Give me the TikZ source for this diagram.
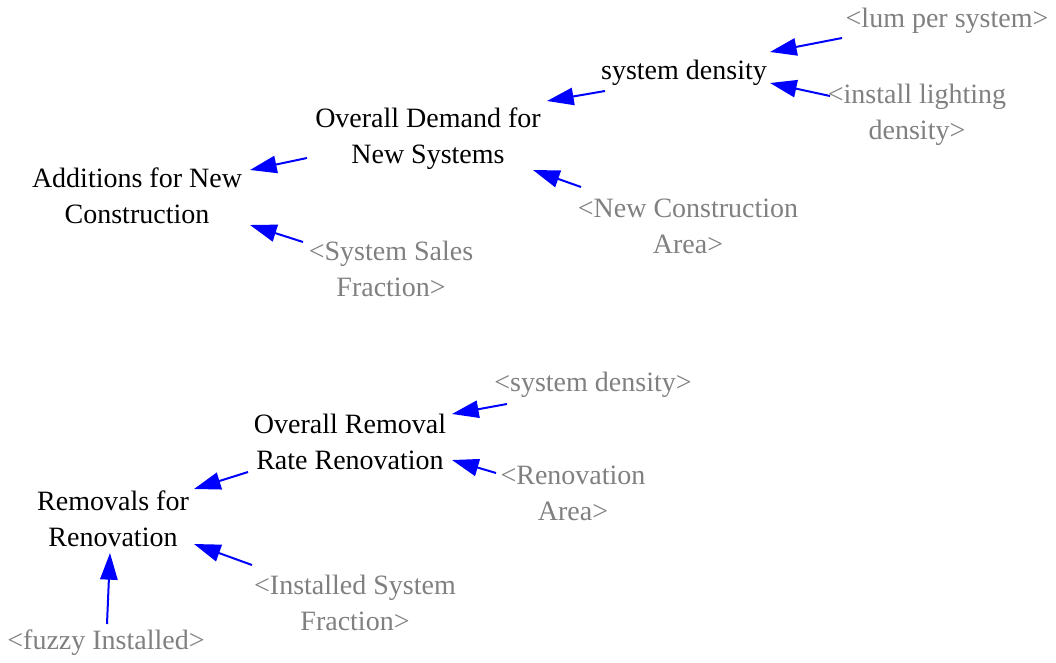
\documentclass[tikz,border=0pt]{standalone}
\usepackage{fontspec}
\setmainfont{Liberation Serif}
\usetikzlibrary{arrows.meta}
\definecolor{vgray}{RGB}{128,128,128}
\definecolor{vblue}{RGB}{0,0,255}
\begin{document}
\begin{tikzpicture}[x=0.75pt,y=-0.75pt,
  var/.style={align=center,inner sep=0pt,font=\rmfamily\fontsize{21}{27}\selectfont,text=black},
  shadow/.style={var,text=vgray},
  arr/.style={draw=vblue,line width=1.5pt,-{Triangle[length=20pt,width=13pt]},fill=vblue}]
\useasboundingbox (0,0) rectangle (1056,663);
% nodes
\node[var] (sd) at (684,73) {system density};
\node[var] (odn) at (428,139) {Overall Demand for\\New Systems};
\node[var] (anc) at (137,196) {Additions for New\\Construction};
\node[shadow] (lum) at (947,21) {<lum per system>};
\node[shadow] (ild) at (917,115) {<install lighting\\density>};
\node[shadow] (nca) at (688,226) {<New Construction\\Area>};
\node[shadow] (ssf) at (391,269) {<System Sales\\Fraction>};
\node[shadow] (sd2) at (593,385) {<system density>};
\node[var] (orr) at (350,442) {Overall Removal\\Rate Renovation};
\node[shadow] (ra) at (573,493) {<Renovation\\Area>};
\node[var] (rfr) at (113,519) {Removals for\\Renovation};
\node[shadow] (isf) at (355,603) {<Installed System\\Fraction>};
\node[shadow] (fi) at (106,643) {<fuzzy Installed>};
% connectors
\draw[arr] ([shift={(-105,17)}]lum.center) -- ([shift={(86,-21)}]sd.center);
\draw[arr] ([shift={(-87,-19)}]ild.center) -- ([shift={(86,10)}]sd.center);
\draw[arr] ([shift={(-79,18)}]sd.center) -- ([shift={(119,-38)}]odn.center);
\draw[arr] ([shift={(-121,19)}]odn.center) -- ([shift={(113,-26)}]anc.center);
\draw[arr] ([shift={(-107,-39)}]nca.center) -- ([shift={(105,31)}]odn.center);
\draw[arr] ([shift={(-88,-27)}]ssf.center) -- ([shift={(113,29)}]anc.center);
\draw[arr] ([shift={(-86,19)}]sd2.center) -- ([shift={(102,-28)}]orr.center);
\draw[arr] ([shift={(-77,-20)}]ra.center) -- ([shift={(102,18)}]orr.center);
\draw[arr] ([shift={(-102,30)}]orr.center) -- ([shift={(81,-30)}]rfr.center);
\draw[arr] ([shift={(-103,-38)}]isf.center) -- ([shift={(81,25)}]rfr.center);
\draw[arr] ([shift={(1,-19)}]fi.center) -- ([shift={(-3,34)}]rfr.center);
\end{tikzpicture}
\end{document}
